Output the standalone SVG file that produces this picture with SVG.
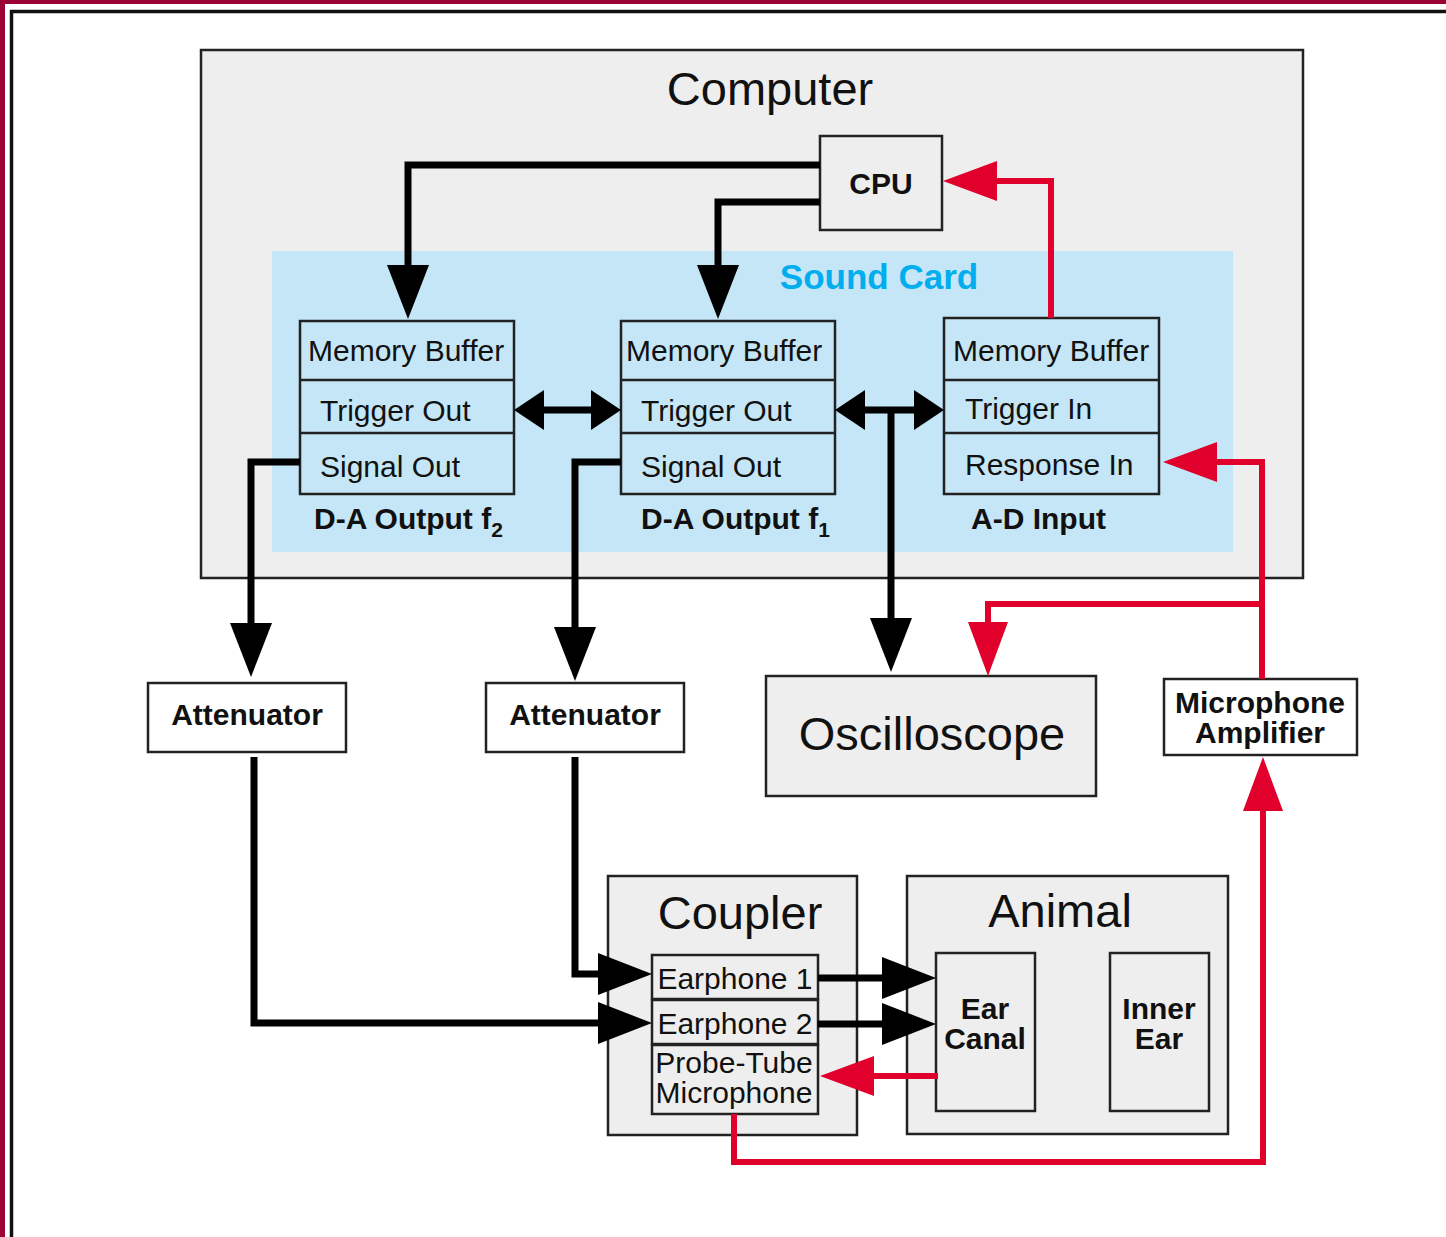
<svg xmlns="http://www.w3.org/2000/svg" width="1446" height="1237" viewBox="0 0 1446 1237">
<style>
text{font-family:"Liberation Sans",Arial,sans-serif;fill:#111}
.t{font-size:30px}
.b{font-size:30px;font-weight:bold}
.big{font-size:47px}
.c{text-anchor:middle}
.box{fill:#eeeeee;stroke:#222;stroke-width:2.5}
.wbox{fill:#ffffff;stroke:#222;stroke-width:2.5}
.cbox{fill:none;stroke:#222;stroke-width:2.5}
.bl{fill:none;stroke:#000;stroke-width:7;stroke-linejoin:miter}
.rd{fill:none;stroke:#e0002b;stroke-width:6;stroke-linejoin:miter}
</style>
<defs>
<marker id="ab" markerUnits="userSpaceOnUse" markerWidth="54" markerHeight="42" refX="0" refY="21" orient="auto" overflow="visible"><path d="M0,0 L54,21 L0,42 Z" fill="#000"/></marker>
<marker id="as" markerUnits="userSpaceOnUse" markerWidth="30" markerHeight="40" refX="0" refY="20" orient="auto-start-reverse" overflow="visible"><path d="M0,0 L30,20 L0,40 Z" fill="#000"/></marker>
<marker id="ar" markerUnits="userSpaceOnUse" markerWidth="54" markerHeight="40" refX="0" refY="20" orient="auto" overflow="visible"><path d="M0,0 L54,20 L0,40 Z" fill="#e0002b"/></marker>
</defs>
<rect x="0" y="0" width="1446" height="1237" fill="#ffffff"/>
<rect x="0" y="0" width="5" height="1237" fill="#9b0036"/>
<rect x="0" y="0" width="1446" height="4" fill="#9b0036"/>
<path d="M11.5,1237 V11.5 H1446" fill="none" stroke="#111" stroke-width="3.5"/>

<g id="computer">
<rect x="201" y="50" width="1102" height="528" class="box"/>
<text x="770" y="105" class="big c">Computer</text>
</g>
<g id="soundcard">
<rect x="272" y="251" width="961" height="301" fill="#c5e6f6"/>
<text x="879" y="289" style="font-size:35px;font-weight:bold;fill:#00aeef" class="c">Sound Card</text>
</g>
<g id="cpu">
<rect x="820" y="136" width="122" height="94" class="box"/>
<text x="881" y="194" class="b c">CPU</text>
</g>
<g id="da-f2">
<rect x="300" y="321" width="214" height="173" class="cbox"/>
<line x1="300" y1="380" x2="514" y2="380" class="cbox"/>
<line x1="300" y1="433" x2="514" y2="433" class="cbox"/>
<text x="308" y="361" class="t">Memory Buffer</text>
<text x="320" y="421" class="t">Trigger Out</text>
<text x="320" y="477" class="t">Signal Out</text>
<text x="314" y="529" class="b">D-A Output f<tspan dy="8" style="font-size:21px">2</tspan></text>
</g>
<g id="da-f1">
<rect x="621" y="321" width="214" height="173" class="cbox"/>
<line x1="621" y1="380" x2="835" y2="380" class="cbox"/>
<line x1="621" y1="433" x2="835" y2="433" class="cbox"/>
<text x="626" y="361" class="t">Memory Buffer</text>
<text x="641" y="421" class="t">Trigger Out</text>
<text x="641" y="477" class="t">Signal Out</text>
<text x="641" y="529" class="b">D-A Output f<tspan dy="8" style="font-size:21px">1</tspan></text>
</g>
<g id="ad-input">
<rect x="944" y="318" width="215" height="176" class="cbox"/>
<line x1="944" y1="380" x2="1159" y2="380" class="cbox"/>
<line x1="944" y1="433" x2="1159" y2="433" class="cbox"/>
<text x="953" y="361" class="t">Memory Buffer</text>
<text x="965" y="419" class="t">Trigger In</text>
<text x="965" y="475" class="t">Response In</text>
<text x="971" y="529" class="b">A-D Input</text>
</g>
<g id="attenuator1">
<rect x="148" y="683" width="198" height="69" class="wbox"/>
<text x="247" y="725" class="b c">Attenuator</text>
</g>
<g id="attenuator2">
<rect x="486" y="683" width="198" height="69" class="wbox"/>
<text x="585" y="725" class="b c">Attenuator</text>
</g>
<g id="oscilloscope">
<rect x="766" y="676" width="330" height="120" class="box"/>
<text x="932" y="750" class="big c">Oscilloscope</text>
</g>
<g id="mic-amp">
<rect x="1164" y="679" width="193" height="76" class="wbox"/>
<text x="1260" y="713" class="b c">Microphone</text>
<text x="1260" y="743" class="b c">Amplifier</text>
</g>
<g id="coupler">
<rect x="608" y="876" width="249" height="259" class="box"/>
<text x="740" y="929" class="big c">Coupler</text>
</g>
<g id="earphone1">
<rect x="652" y="955" width="166" height="44" class="box"/>
<text x="735" y="989" class="t c">Earphone 1</text>
</g>
<g id="earphone2">
<rect x="652" y="1000" width="166" height="44" class="box"/>
<text x="735" y="1034" class="t c">Earphone 2</text>
</g>
<g id="probe-mic">
<rect x="652" y="1045" width="166" height="69" class="box"/>
<text x="734" y="1073" class="t c">Probe-Tube</text>
<text x="734" y="1103" class="t c">Microphone</text>
</g>
<g id="animal">
<rect x="907" y="876" width="321" height="258" class="box"/>
<text x="1060" y="927" class="big c">Animal</text>
</g>
<g id="ear-canal">
<rect x="936" y="953" width="99" height="158" class="box"/>
<text x="985" y="1019" class="b c">Ear</text>
<text x="985" y="1049" class="b c">Canal</text>
</g>
<g id="inner-ear">
<rect x="1110" y="953" width="99" height="158" class="box"/>
<text x="1159" y="1019" class="b c">Inner</text>
<text x="1159" y="1049" class="b c">Ear</text>
</g>

<g id="connectors">
<path d="M820,165 H408 V265" class="bl" marker-end="url(#ab)"/>
<path d="M820,202 H718 V265" class="bl" marker-end="url(#ab)"/>
<path d="M544,410 H591" class="bl" marker-start="url(#as)" marker-end="url(#as)"/>
<path d="M865,410 H914" class="bl" marker-start="url(#as)" marker-end="url(#as)"/>
<path d="M891,410 V618" class="bl" marker-end="url(#ab)"/>
<path d="M300,462 H251 V623" class="bl" marker-end="url(#ab)"/>
<path d="M621,462 H575 V627" class="bl" marker-end="url(#ab)"/>
<path d="M254,757 V1023 H598" class="bl" marker-end="url(#ab)"/>
<path d="M575,757 V974 H598" class="bl" marker-end="url(#ab)"/>
<path d="M818,978 H882" class="bl" marker-end="url(#ab)"/>
<path d="M818,1024 H882" class="bl" marker-end="url(#ab)"/>
<path d="M1051,318 V181 H997" class="rd" marker-end="url(#ar)"/>
<path d="M938,1076 H874" class="rd" marker-end="url(#ar)"/>
<path d="M734,1114 V1162 H1263 V811" class="rd" marker-end="url(#ar)"/>
<path d="M1262,679 V462 H1217" class="rd" marker-end="url(#ar)"/>
<path d="M1262,604 H988 V622" class="rd" marker-end="url(#ar)"/>
</g>
</svg>
